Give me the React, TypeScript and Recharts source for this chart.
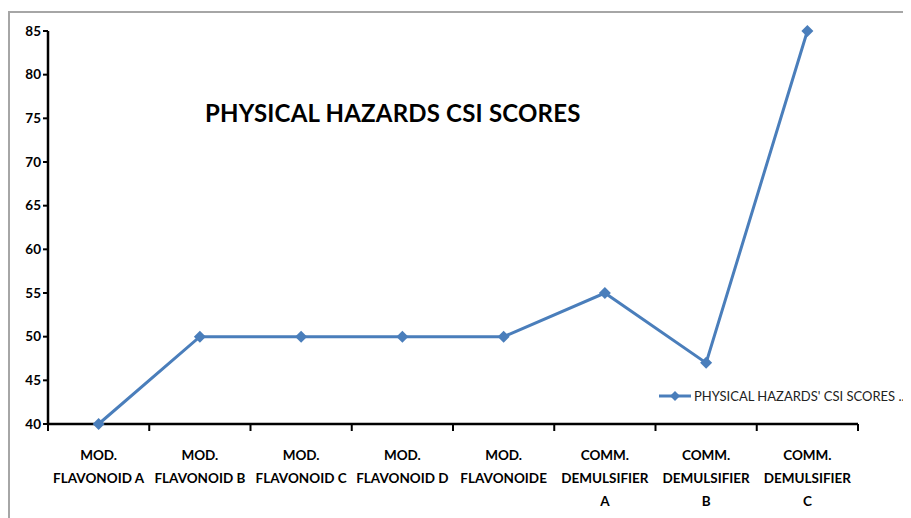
import React from 'react';
import { LineChart, Line, XAxis, YAxis } from 'recharts';

const CATEGORIES = [
  'MOD.\nFLAVONOID A',
  'MOD.\nFLAVONOID B',
  'MOD.\nFLAVONOID C',
  'MOD.\nFLAVONOID D',
  'MOD.\nFLAVONOIDE',
  'COMM.\nDEMULSIFIER\nA',
  'COMM.\nDEMULSIFIER\nB',
  'COMM.\nDEMULSIFIER\nC',
];
const SCORES = [40, 50, 50, 50, 50, 55, 47, 85];
const Y_TICKS = [40, 45, 50, 55, 60, 65, 70, 75, 80, 85];
const SERIES_NAME = "PHYSICAL HAZARDS' CSI SCORES ..";
const TITLE = 'PHYSICAL HAZARDS CSI SCORES';

const data = CATEGORIES.map((name, i) => ({ name, score: SCORES[i] }));

const BLUE = '#4a7ebb';
const FONT = 'Lato, "Open Sans", sans-serif';
const HALF_BAND = 810 / CATEGORIES.length / 2;

const XTick = (props: any) => {
  const { x, y, payload, index } = props;
  const lines = String(payload.value).split('\n');
  return (
    <g>
      <line x1={x - HALF_BAND} y1={y - 8} x2={x - HALF_BAND} y2={y - 1} stroke="#000" strokeWidth={2} />
      {index === CATEGORIES.length - 1 && (
        <line x1={x + HALF_BAND} y1={y - 8} x2={x + HALF_BAND} y2={y - 1} stroke="#000" strokeWidth={2} />
      )}
      {lines.map((l, i) => (
        <text
          key={i}
          x={x}
          y={y + 28 + i * 23}
          textAnchor="middle"
          fontSize={13.5}
          fontWeight={700}
          fill="#000"
          fontFamily={FONT}
        >
          {l}
        </text>
      ))}
    </g>
  );
};

const Diamond = (props: any) => {
  const { cx, cy } = props;
  if (cx == null || cy == null) return null;
  return <path d={`M${cx} ${cy - 6} L${cx + 6} ${cy} L${cx} ${cy + 6} L${cx - 6} ${cy} Z`} fill={BLUE} />;
};

const App: React.FC = () => {
  return (
    <div style={{ position: 'relative', width: 903, height: 510 }}>
      <div
        style={{
          position: 'absolute',
          left: 0,
          top: 3,
          right: 0,
          bottom: 0,
          borderTop: '2px solid #a6a6a6',
          borderLeft: '2px solid #a6a6a6',
        }}
      />
      <div
        style={{
          position: 'absolute',
          left: 197,
          top: 90,
          fontFamily: FONT,
          fontWeight: 700,
          fontSize: 24,
          color: '#000',
          letterSpacing: 0.2,
        }}
      >
        {TITLE}
      </div>
      <div
        style={{
          position: 'absolute',
          left: 650,
          top: 380,
          display: 'flex',
          alignItems: 'center',
          fontFamily: FONT,
          fontSize: 13,
          color: '#222',
          whiteSpace: 'nowrap',
        }}
      >
        <svg width={34} height={12}>
          <line x1={1} y1={6} x2={33} y2={6} stroke={BLUE} strokeWidth={3} />
          <path d="M17 1 L22 6 L17 11 L12 6 Z" fill={BLUE} />
        </svg>
        <span style={{ marginLeft: 2 }}>{SERIES_NAME}</span>
      </div>
      <LineChart
        width={903}
        height={510}
        data={data}
        margin={{ top: 23, right: 53, left: 0, bottom: 0 }}
        style={{ position: 'absolute', left: 0, top: 0 }}
      >
        <XAxis
          dataKey="name"
          interval={0}
          height={94}
          padding={{ left: HALF_BAND, right: HALF_BAND }}
          axisLine={{ stroke: '#000', strokeWidth: 2.5 }}
          tickLine={false}
          tick={<XTick />}
        />
        <YAxis
          domain={[40, 85]}
          ticks={Y_TICKS}
          width={40}
          interval={0}
          tickSize={5}
          axisLine={{ stroke: '#000', strokeWidth: 2.5 }}
          tickLine={{ stroke: '#000', strokeWidth: 2 }}
          tick={{ fill: '#000', fontSize: 13.5, fontWeight: 700, fontFamily: FONT }}
        />
        <Line
          type="linear"
          dataKey="score"
          name={SERIES_NAME}
          stroke={BLUE}
          strokeWidth={3}
          dot={<Diamond />}
          activeDot={false}
          isAnimationActive={false}
        />
      </LineChart>
    </div>
  );
};

export default App;
